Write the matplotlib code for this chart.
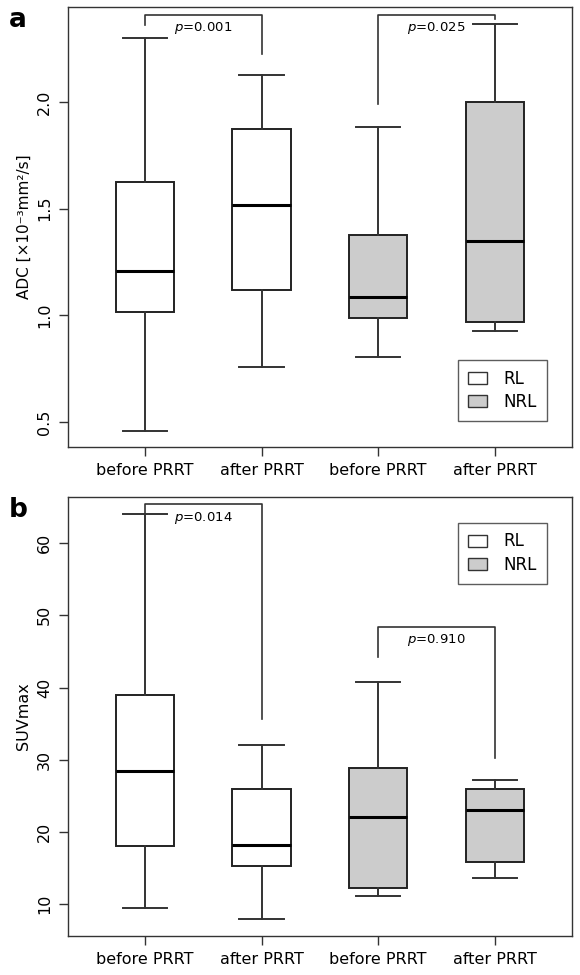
import matplotlib
matplotlib.use("Agg")
import matplotlib.pyplot as plt
from matplotlib.patches import Patch

plt.rcParams['font.family'] = ['DejaVu Sans']

# group labels and fills
labels = ["before PRRT", "after PRRT", "before PRRT", "after PRRT"]
fills = ["white", "white", "#cccccc", "#cccccc"]

# panel a: ADC  (whisker low, q1, median, q3, whisker high)
adc_lo = [0.46, 0.76, 0.805, 0.927]
adc_q1 = [1.016, 1.119, 0.987, 0.969]
adc_med = [1.208, 1.517, 1.086, 1.348]
adc_q3 = [1.625, 1.873, 1.376, 2.0]
adc_hi = [2.30, 2.127, 1.883, 2.366]

# panel b: SUVmax
suv_lo = [9.45, 7.9, 11.1, 13.6]
suv_q1 = [18.0, 15.3, 12.2, 15.8]
suv_med = [28.4, 18.2, 22.0, 23.0]
suv_q3 = [38.9, 26.0, 28.8, 26.0]
suv_hi = [64.1, 32.0, 40.7, 27.2]


def stats(lo, q1, med, q3, hi):
    out = []
    for i in range(len(lo)):
        out.append(dict(whislo=lo[i], q1=q1[i], med=med[i], q3=q3[i],
                        whishi=hi[i], fliers=[]))
    return out


def draw(ax, st, ylim, yticks):
    bp = ax.bxp(st, positions=[1, 2, 3, 4], widths=0.5, patch_artist=True,
                showfliers=False,
                boxprops=dict(edgecolor='#222222', linewidth=1.4),
                whiskerprops=dict(color='#333333', linewidth=1.4),
                capprops=dict(color='#333333', linewidth=1.4),
                medianprops=dict(color='black', linewidth=2.2),
                capwidths=0.38)
    for b, c in zip(bp['boxes'], fills):
        b.set_facecolor(c)
    ax.set_xlim(0.34, 4.66)
    ax.set_ylim(*ylim)
    ax.set_yticks(yticks)
    ax.set_xticks([1, 2, 3, 4])
    ax.set_xticklabels(labels, fontsize=11.5)
    ax.tick_params(axis='y', labelrotation=90, labelsize=11.5)
    ax.tick_params(length=6.5, width=1, color='#333333', pad=5)
    for lab in ax.get_yticklabels():
        lab.set_va('center')
    for s in ax.spines.values():
        s.set_linewidth(1.0)
        s.set_color('#333333')
    ax.legend(handles=[Patch(facecolor='white', edgecolor='#333333', label='RL'),
                       Patch(facecolor='#cccccc', edgecolor='#333333', label='NRL')],
              fontsize=12, fancybox=False, edgecolor='#333333',
              handlelength=1.1, handleheight=0.7, borderpad=0.6,
              labelspacing=0.3, handletextpad=1.0)


def bracket(ax, x1, x2, top, y1, y2, text):
    ax.plot([x1, x1, x2, x2], [y1, top, top, y2], color='#333333', lw=1.2)
    ax.annotate("$p$=" + text, ((x1 + x2) / 2, top), xytext=(0, -4),
                textcoords='offset points', ha='center', va='top',
                fontsize=9.5)


fig = plt.figure(figsize=(5.8, 9.75), dpi=100)
ax1 = fig.add_axes([0.117, 0.5415, 0.869, 0.4513])
ax2 = fig.add_axes([0.117, 0.04, 0.869, 0.4503])

draw(ax1, stats(adc_lo, adc_q1, adc_med, adc_q3, adc_hi),
     (0.383, 2.445), [0.5, 1.0, 1.5, 2.0])
ax1.set_ylabel("ADC [×10⁻³mm²/s]", fontsize=11)
ax1.legend_.set_bbox_to_anchor((458 / 580, 1 - 423 / 975, 89 / 580, 65 / 975),
                               transform=fig.transFigure)
ax1.legend_.set_loc('center')
bracket(ax1, 1, 2, 2.408, 2.36, 2.225, "0.001")
bracket(ax1, 3, 4, 2.408, 1.99, 2.39, "0.025")

draw(ax2, stats(suv_lo, suv_q1, suv_med, suv_q3, suv_hi),
     (5.57, 66.4), [10, 20, 30, 40, 50, 60])
ax2.set_ylabel("SUVmax", fontsize=11.5)
ax2.legend_.set_bbox_to_anchor((458 / 580, 1 - 585 / 975, 89 / 580, 64 / 975),
                               transform=fig.transFigure)
ax2.legend_.set_loc('center')
bracket(ax2, 1, 2, 65.4, 64.2, 35.7, "0.014")
bracket(ax2, 3, 4, 48.4, 44.2, 30.3, "0.910")

fig.text(0.015, 0.979, "a", fontsize=19, fontweight='bold', va='center')
fig.text(0.015, 0.477, "b", fontsize=19, fontweight='bold', va='center')

fig.savefig("out.png", dpi=100)
